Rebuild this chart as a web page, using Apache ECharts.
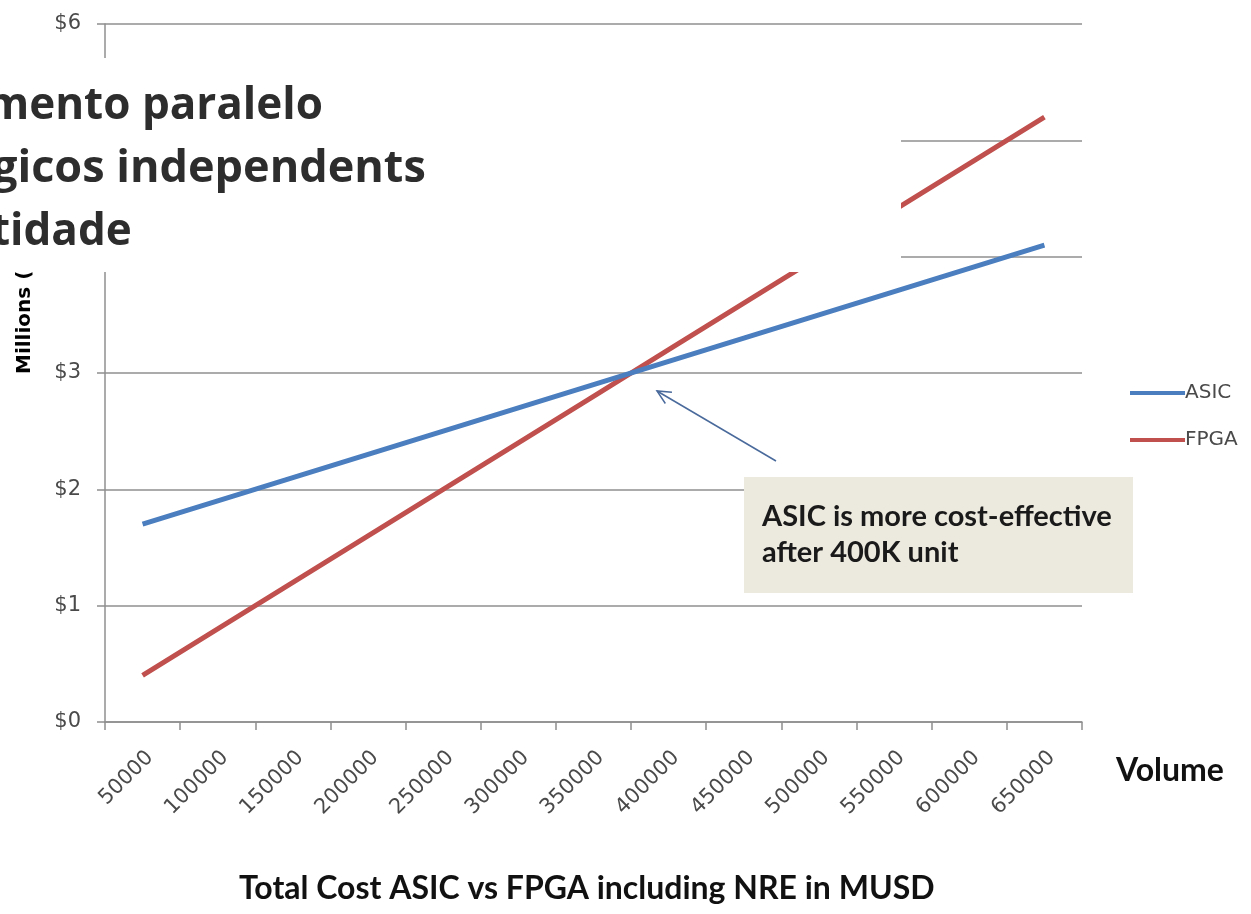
<!DOCTYPE html>
<html><head><meta charset="utf-8">
<script src="https://cdn.jsdelivr.net/npm/echarts@6/dist/echarts.min.js"></script>
<style>html,body{margin:0;padding:0;background:#fff}#c{width:1251px;height:914px}</style>
</head><body><div id="c"></div>
<script>
const categories = ['50000','100000','150000','200000','250000','300000','350000','400000','450000','500000','550000','600000','650000'];
const asic = [1.7,1.9,2.1,2.3,2.5,2.7,2.9,3.1,3.3,3.5,3.7,3.9,4.1];
const fpga = [0.4,0.8,1.2,1.6,2.0,2.4,2.8,3.2,3.6,4.0,4.4,4.8,5.2];
const yTickLabels = ['$0','$1','$2','$3','$4','$5','$6'];
const seriesNames = ['ASIC','FPGA'];
const overlayLines = ['mento paralelo','gicos independents','tidade'];
const titleText = 'Total Cost ASIC vs FPGA including NRE in MUSD';
const noteText = 'ASIC is more cost-effective\nafter 400K unit';

const chart = echarts.init(document.getElementById('c'));
const gridCol = '#8f8f8f';
const labelCol = '#4a4a4a';

// arrow annotation
const tail = [776, 461], tip = [657, 391];
const dx = tip[0]-tail[0], dy = tip[1]-tail[1], L = Math.hypot(dx,dy);
const ux = dx/L, uy = dy/L, hl = 15, ang = Math.PI/7;
function rot(x,y,a){return [x*Math.cos(a)-y*Math.sin(a), x*Math.sin(a)+y*Math.cos(a)];}
const h1 = rot(-ux,-uy,ang), h2 = rot(-ux,-uy,-ang);

chart.setOption({
  animation:false,
  grid:{left:105, top:24, width:977, height:698, containLabel:false},
  title:{text:titleText, left:234, top:868, textStyle:{fontFamily:'Lato', fontWeight:'bold', fontSize:32, color:'#111'}},
  legend:{orient:'vertical', left:1125, top:378, itemWidth:55, itemHeight:4, itemGap:27, icon:'rect',
    textStyle:{fontFamily:'DejaVu Sans', fontSize:20, color:labelCol, padding:[0,0,0,-5]}, data:seriesNames},
  xAxis:{type:'category', data:categories, boundaryGap:true,
    axisLine:{lineStyle:{color:gridCol, width:1.5}},
    axisTick:{show:true, length:8, alignWithLabel:false, lineStyle:{color:gridCol, width:1.5}},
    axisLabel:{rotate:45, margin:25, interval:0, verticalAlign:'top', fontFamily:'DejaVu Sans', fontSize:21, color:labelCol},
    splitLine:{show:false}},
  yAxis:{type:'value', min:0, max:6, interval:1,
    axisLine:{show:true, lineStyle:{color:gridCol, width:1.5}},
    axisTick:{show:true, length:8, lineStyle:{color:gridCol, width:1.5}},
    axisLabel:{margin:24, fontFamily:'DejaVu Sans', fontSize:21, color:labelCol, formatter:(v)=>yTickLabels[v]},
    splitLine:{show:true, lineStyle:{color:gridCol, width:1.5}}},
  series:[
    {name:seriesNames[0], type:'line', data:asic, symbol:'none', smooth:false, color:'#4a7ebf', lineStyle:{width:5, color:'#4a7ebf'}, z:3},
    {name:seriesNames[1], type:'line', data:fpga, symbol:'none', smooth:false, color:'#c0504d', lineStyle:{width:5, color:'#c0504d'}, z:2}
  ],
  graphic:[
    {type:'text', x:15, y:374, rotation:Math.PI/2, z:40,
      style:{text:'Millions (USD)', fontFamily:'DejaVu Sans', fontWeight:'bold', fontSize:20, fill:'#000', textAlign:'left', textVerticalAlign:'top'}},
    {type:'rect', shape:{x:0, y:58, width:901, height:214}, style:{fill:'#fff'}, z:50},
    {type:'text', x:-14, y:84, z:60, style:{text:overlayLines[0], fontFamily:'Open Sans', fontWeight:'bold', fontSize:44, fill:'#2d2d2d'}},
    {type:'text', x:-8, y:147, z:60, style:{text:overlayLines[1], fontFamily:'Open Sans', fontWeight:'bold', fontSize:45, fill:'#2d2d2d'}},
    {type:'text', x:-9, y:210, z:60, style:{text:overlayLines[2], fontFamily:'Open Sans', fontWeight:'bold', fontSize:44, fill:'#2d2d2d'}},
    {type:'text', x:1116, y:755, z:60, style:{text:'Volume', fontFamily:'Lato', fontWeight:'bold', fontSize:32, fill:'#111'}},
    {type:'rect', shape:{x:744, y:477, width:389, height:116}, style:{fill:'#ece9df'}, z:30},
    {type:'text', x:762, y:499, z:31, style:{text:noteText, fontFamily:'Lato', fontWeight:'bold', fontSize:29, lineHeight:36, fill:'#1a1a1a'}},
    {type:'line', z:31, shape:{x1:tail[0], y1:tail[1], x2:tip[0], y2:tip[1]}, style:{stroke:'#4a6a9c', lineWidth:1.5}},
    {type:'polyline', z:31, shape:{points:[[tip[0]+h1[0]*hl, tip[1]+h1[1]*hl], tip, [tip[0]+h2[0]*hl, tip[1]+h2[1]*hl]]}, style:{stroke:'#4a6a9c', lineWidth:1.5, fill:null}}
  ]
});
</script></body></html>
